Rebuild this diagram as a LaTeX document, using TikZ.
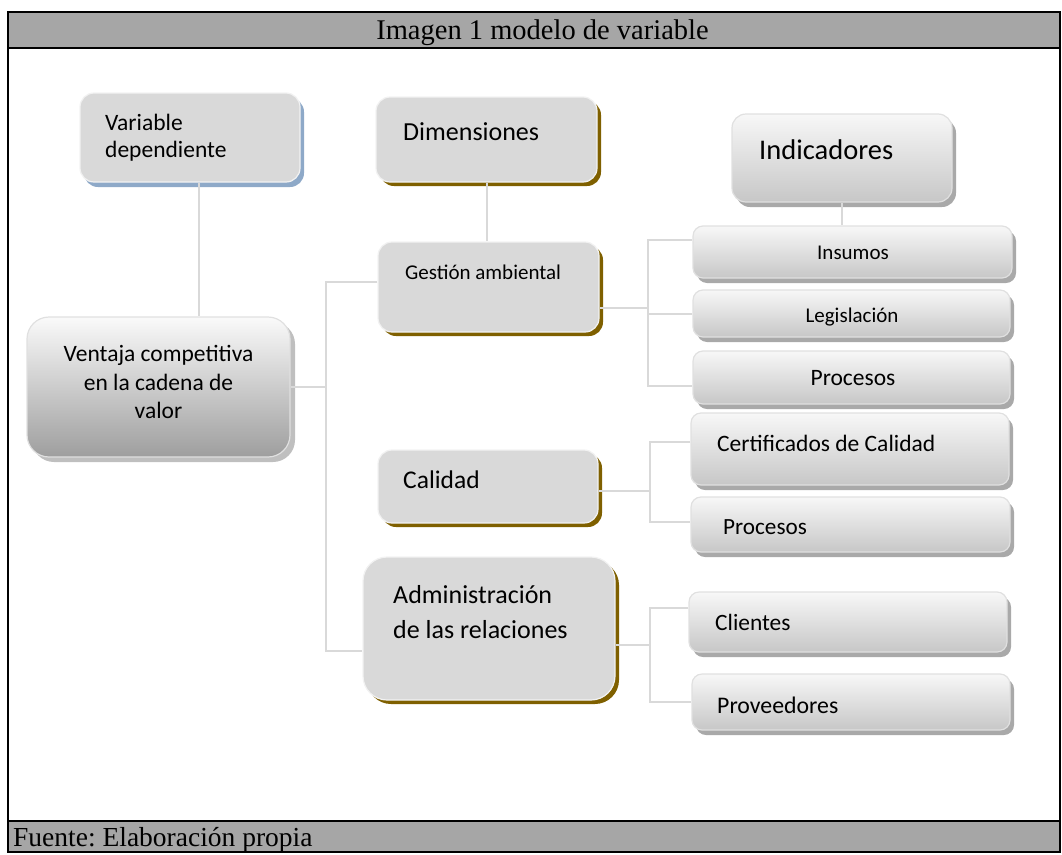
\documentclass[tikz,border=0pt]{standalone}
\usepackage{fontspec}
\setmainfont{Liberation Serif}
\newfontfamily\boxfont{Carlito}
\usetikzlibrary{shadows}
\definecolor{bandgray}{HTML}{A6A6A6}
\definecolor{boxgray}{HTML}{D9D9D9}
\definecolor{shbrown}{HTML}{7F6000}
\definecolor{shblue}{HTML}{8EA9C8}
\definecolor{shgray}{HTML}{A9A9A9}
\definecolor{linegray}{HTML}{D9D9D9}
\newcommand\fs[2]{\fontsize{#1}{#2}\selectfont}
\frenchspacing

\begin{document}
\begin{tikzpicture}[x=1pt,y=-1pt]
\tikzstyle{smartbox}=[rectangle, rounded corners=14pt, draw=white!90!gray, line width=1.2pt, inner sep=0pt]
\tikzstyle{dimbox}=[smartbox, fill=boxgray, drop shadow={shadow xshift=4pt,shadow yshift=-4pt,fill=shbrown,opacity=1}]
\tikzstyle{varbox}=[smartbox, fill=boxgray, drop shadow={shadow xshift=4pt,shadow yshift=-5pt,fill=shblue,opacity=1}]
\tikzstyle{indbox}=[smartbox, rounded corners=10pt, top color=black!3, bottom color=black!22, draw=black!12, drop shadow={shadow xshift=4pt,shadow yshift=-5pt,fill=shgray,opacity=1}]
\tikzstyle{ventbox}=[smartbox, rounded corners=22pt, top color=black!2, bottom color=black!38, draw=black!12, drop shadow={shadow xshift=5pt,shadow yshift=-5pt,fill=black!25,opacity=1}]
\tikzstyle{conn}=[draw=linegray, line width=2pt]
\tikzstyle{txt}=[inner sep=0pt, align=left]

\useasboundingbox (0,0) rectangle (1062,854);
\fill[bandgray] (8,12) rectangle (1060,48);
\fill[bandgray] (8,821) rectangle (1060,852);
\draw[line width=2.5pt] (8,12) rectangle (1060,852);
\draw[line width=2.5pt] (8,48) -- (1060,48);
\draw[line width=2.5pt] (8,821) -- (1060,821);
\node[txt, anchor=base, font=\fs{28.5}{34}] (title) at (542.5,39.5) {Imagen 1 modelo de variable};
\node[txt, anchor=base west, font=\fs{27.5}{33}] (fuente) at (13,846) {Fuente: Elaboración propia};

\node[varbox, minimum width=220pt, minimum height=89pt] (vd) at (190,137.5) {};
\node[ventbox, minimum width=263pt, minimum height=140pt] (vent) at (158.5,387) {};
\node[dimbox, minimum width=221pt, minimum height=85pt] (dim) at (486.5,139.5) {};
\node[dimbox, minimum width=221pt, minimum height=90pt] (gest) at (488.5,287) {};
\node[dimbox, minimum width=220pt, minimum height=73pt] (cal) at (488,486.5) {};
\node[dimbox, rounded corners=24pt, minimum width=252pt, minimum height=143pt] (adm) at (489,628.5) {};
\node[indbox, rounded corners=14pt, minimum width=220pt, minimum height=88pt] (ind) at (842,158) {};
\node[indbox, minimum width=319pt, minimum height=52pt] (ins) at (852.5,252) {};
\node[indbox, minimum width=317pt, minimum height=47pt] (leg) at (851.5,313.5) {};
\node[indbox, minimum width=317pt, minimum height=53pt] (pro) at (851.5,377.5) {};
\node[indbox, minimum width=318pt, minimum height=72pt] (cer) at (850,449) {};
\node[indbox, minimum width=319pt, minimum height=55pt] (pr2) at (850.5,524.5) {};
\node[indbox, minimum width=318pt, minimum height=60pt] (cli) at (848,622) {};
\node[indbox, minimum width=318pt, minimum height=56pt] (prv) at (851,702) {};

\node[txt, anchor=west, font=\boxfont\fs{23.5}{27}] (vd-t) at (105,138) {Variable\\dependiente};
\node[txt, align=center, font=\boxfont\fs{23.5}{28.5}] (vent-t) at (158.5,382) {Ventaja competitiva\\en la cadena de\\valor};
\node[txt, anchor=west, font=\boxfont\fs{26}{31}] (dim-t) at (403,132) {Dimensiones};
\node[txt, anchor=west, font=\boxfont\fs{21}{25}] (gest-t) at (405,272) {Gestión ambiental};
\node[txt, anchor=west, font=\boxfont\fs{25.5}{31}] (cal-t) at (403,480) {Calidad};
\node[txt, anchor=west, font=\boxfont\fs{26}{35}] (adm-t) at (393,612) {Administración\\de las relaciones};
\node[txt, anchor=west, font=\boxfont\fs{28.5}{34}] (ind-t) at (759,150) {Indicadores};
\node[txt, font=\boxfont\fs{21}{25}] (ins-t) at (853,253) {Insumos};
\node[txt, font=\boxfont\fs{21}{25}] (leg-t) at (852,317) {Legislación};
\node[txt, font=\boxfont\fs{23.5}{28}] (pro-t) at (853,378) {Procesos};
\node[txt, anchor=west, font=\boxfont\fs{23.5}{28}] (cer-t) at (717,443) {Certificados de Calidad};
\node[txt, anchor=west, font=\boxfont\fs{23.2}{28}] (pr2-t) at (723,527) {Procesos};
\node[txt, anchor=west, font=\boxfont\fs{23.4}{28}] (cli-t) at (715,622) {Clientes};
\node[txt, anchor=west, font=\boxfont\fs{23.8}{28}] (prv-t) at (717,705) {Proveedores};

\coordinate (trunk) at (326,392);
\coordinate (gb) at (648,308);
\coordinate (cb) at (650,491);
\coordinate (ab) at (650,645);

\draw[conn] ([xshift=9pt]vd.south) -- ([xshift=9pt]vd.south |- vent.north);
\draw[conn] (dim.south) -- (dim.south |- gest.north);
\draw[conn] (ind.south) -- (ind.south |- ins.north);
\draw[conn] (vent.east) -- (vent.east -| trunk);
\draw[conn] ([yshift=5pt]gest.west) -| (trunk) |- ([yshift=-22pt]adm.west);
\draw[conn] ([yshift=-21pt]gest.east) -- (gb);
\draw[conn] ([yshift=12pt]ins.west) -| (gb) |- ([yshift=-8pt]pro.west);
\draw[conn] (leg.west) -- (leg.west -| gb);
\draw[conn] ([yshift=-4.5pt]cal.east) -- (cb);
\draw[conn] ([yshift=7pt]cer.west) -| (cb) |- ([yshift=2.5pt]pr2.west);
\draw[conn] ([yshift=-16.5pt]adm.east) -- (ab);
\draw[conn] ([yshift=14pt]cli.west) -| (ab) |- (prv.west);
\end{tikzpicture}
\end{document}
